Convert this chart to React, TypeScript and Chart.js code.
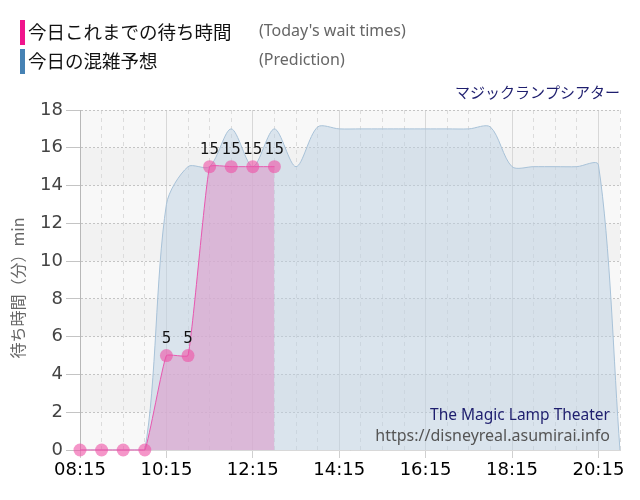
import React, { useEffect, useRef } from "react";
import { Chart, registerables } from "chart.js";

Chart.register(...registerables);

const timeLabels = [
  "08:15", "08:45", "09:15", "09:45", "10:15", "10:45", "11:15", "11:45", "12:15", "12:45",
  "13:15", "13:45", "14:15", "14:45", "15:15", "15:45", "16:15", "16:45", "17:15", "17:45",
  "18:15", "18:45", "19:15", "19:45", "20:15", "20:45",
];

const todayWait = [0, 0, 0, 0, 5, 5, 15, 15, 15, 15];

const prediction = [
  0, 0, 0, 0, 13, 15, 15, 17, 15, 17,
  15, 17.1, 17, 17, 17, 17, 17, 17, 17, 17.1,
  15, 15, 15, 15, 15.1, 0,
];

const yTicks = [0, 2, 4, 6, 8, 10, 12, 14, 16, 18];

const JP = '"Noto Sans CJK JP", "Noto Sans", sans-serif';
const LATIN = '"Noto Sans", "DejaVu Sans", sans-serif';

const decorPlugin = {
  id: "decor",
  beforeDraw(chart: any) {
    const { ctx, chartArea, scales } = chart;
    const y = scales.y;
    ctx.save();
    ctx.fillStyle = "#f8f8f8";
    ctx.fillRect(chartArea.left, chartArea.top, chartArea.right - chartArea.left, chartArea.bottom - chartArea.top);
    for (let v = 0; v < 18; v += 2) {
      if (v % 4 === 2) {
        const top = y.getPixelForValue(v + 2);
        const bot = y.getPixelForValue(v);
        ctx.fillStyle = "#f2f2f2";
        ctx.fillRect(chartArea.left, top, chartArea.right - chartArea.left, bot - top);
      }
    }
    ctx.restore();
  },
  afterDraw(chart: any) {
    const { ctx } = chart;
    ctx.save();
    // header
    ctx.fillStyle = "#f0148c";
    ctx.fillRect(20, 20, 5, 25);
    ctx.fillStyle = "#4682b4";
    ctx.fillRect(20, 49, 5, 25);
    ctx.textBaseline = "middle";
    ctx.textAlign = "left";
    ctx.fillStyle = "#111";
    ctx.font = `18.5px ${JP}`;
    ctx.fillText("今日これまでの待ち時間", 28, 32);
    ctx.fillText("今日の混雑予想", 28, 61);
    ctx.fillStyle = "#666";
    ctx.font = `16px ${LATIN}`;
    ctx.fillText("(Today's wait times)", 259, 31, 152);
    ctx.fillText("(Prediction)", 259, 60, 88);
    ctx.textAlign = "right";
    ctx.fillStyle = "#1e1e6e";
    ctx.font = `15px ${JP}`;
    ctx.fillText("マジックランプシアター", 620, 92);
    // watermark
    ctx.fillStyle = "#1e1e6e";
    ctx.font = `15.5px ${LATIN}`;
    ctx.fillText("The Magic Lamp Theater", 610, 416, 182);
    ctx.fillStyle = "#555";
    ctx.font = `16px ${LATIN}`;
    ctx.fillText("https://disneyreal.asumirai.info", 610, 436, 236);
    // y title
    ctx.translate(18, 288);
    ctx.rotate(-Math.PI / 2);
    ctx.textAlign = "center";
    ctx.fillStyle = "#666";
    ctx.font = `16px ${JP}`;
    ctx.fillText("待ち時間（分）min", 0, 0);
    ctx.restore();

    // data labels
    const meta = chart.getDatasetMeta(0);
    ctx.save();
    ctx.fillStyle = "#111";
    ctx.font = `15px "DejaVu Sans", sans-serif`;
    ctx.textAlign = "center";
    ctx.textBaseline = "bottom";
    meta.data.forEach((pt: any, i: number) => {
      const v = todayWait[i];
      if (v && v > 0) ctx.fillText(String(v), pt.x, pt.y - 9);
    });
    ctx.restore();
  },
};

export default function App() {
  const ref = useRef<HTMLCanvasElement | null>(null);
  useEffect(() => {
    if (!ref.current) return;
    const chart = new Chart(ref.current, {
      type: "line",
      data: {
        labels: timeLabels,
        datasets: [
          {
            label: "今日これまでの待ち時間",
            data: todayWait,
            borderColor: "#e858b0",
            borderWidth: 1,
            backgroundColor: "rgba(220,160,204,0.65)",
            fill: "origin",
            tension: 0.12,
            clip: false,
            pointRadius: 6.5,
            pointBackgroundColor: "rgba(238,80,165,0.6)",
            pointBorderWidth: 0,
            pointBorderColor: "rgba(0,0,0,0)",
          },
          {
            label: "今日の混雑予想",
            data: prediction,
            borderColor: "#a8c2d8",
            borderWidth: 1,
            backgroundColor: "rgba(188,208,226,0.5)",
            fill: "origin",
            tension: 0.3,
            pointRadius: 0,
          },
        ],
      },
      options: {
        animation: false,
        responsive: false,
        layout: { padding: { top: 110, right: 20, left: 0, bottom: 0 } },
        plugins: { legend: { display: false }, tooltip: { enabled: false } },
        scales: {
          x: {
            type: "category",
            offset: false,
            grid: {
              color: (c: any) => (c.index % 4 === 0 ? "#d8d8d8" : "#dcdcdc"),
              tickColor: (c: any) => (c.index % 4 === 0 ? "#d0d0d0" : "rgba(0,0,0,0)"),
              tickLength: 8,
            },
            border: {
              color: "#d8d8d8",
              dash: (c: any) => (c.index !== undefined && c.index % 4 === 0 ? [] : [4, 4]),
            },
            ticks: {
              autoSkip: false,
              maxRotation: 0,
              color: "#000",
              padding: 2,
              font: { family: "DejaVu Sans", size: 18 },
              callback: (_v: any, i: number) => (i % 4 === 0 ? timeLabels[i] : ""),
            },
            afterFit: (s: any) => {
              s.height = 50;
            },
          },
          y: {
            min: 0,
            max: 18,
            afterBuildTicks: (s: any) => {
              s.ticks = yTicks.map((v) => ({ value: v }));
            },
            grid: { color: "#c4c4c4", tickColor: "#c4c4c4", tickLength: 14 },
            border: { color: "#b8b8b8", dash: [2, 2] },
            ticks: {
              color: "#444",
              padding: 3,
              font: { family: "DejaVu Sans", size: 18 },
            },
            afterFit: (s: any) => {
              s.width = 80;
            },
          },
        },
      },
      plugins: [decorPlugin],
    });
    return () => chart.destroy();
  }, []);
  return (
    <div style={{ position: "absolute", left: 0, top: 0, width: 640, height: 500, background: "#fff" }}>
      <canvas ref={ref} width={640} height={500} style={{ display: "block" }} />
    </div>
  );
}
